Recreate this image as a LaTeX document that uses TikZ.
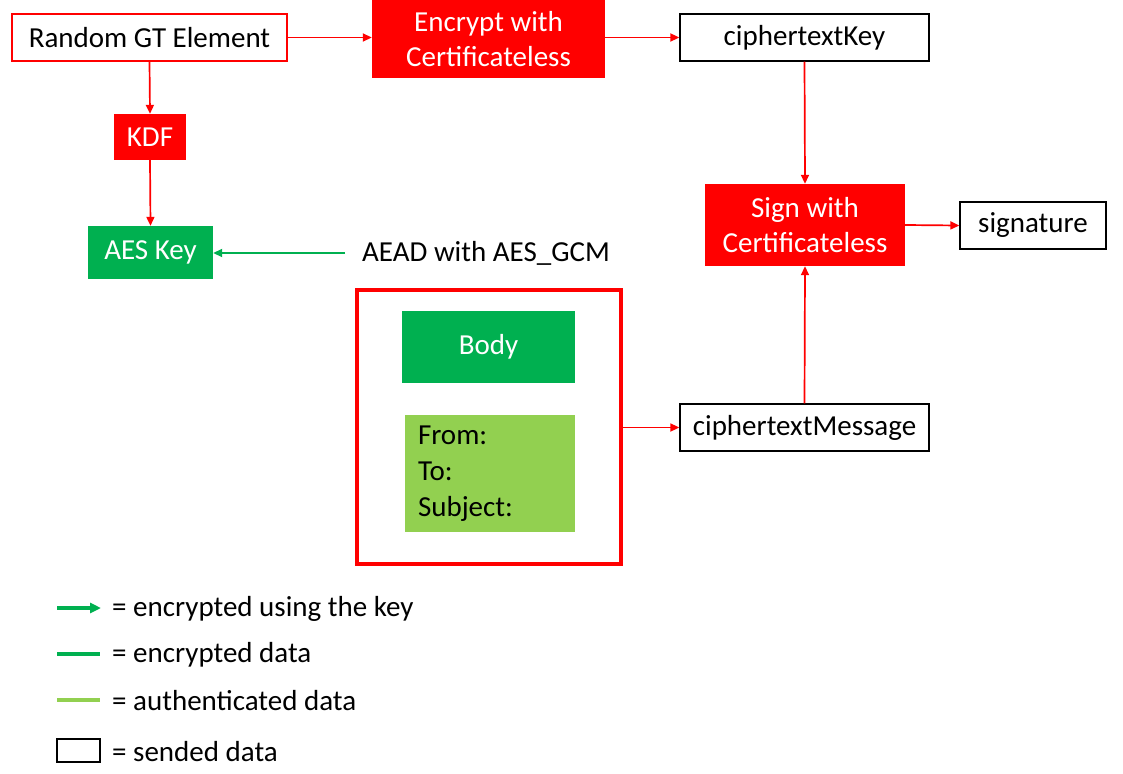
\documentclass[tikz,border=0pt]{standalone}
\usepackage{fontspec}
\setmainfont{Carlito}
\usepackage{tikz}
\usetikzlibrary{arrows.meta, calc}
\usepackage{xcolor}

\definecolor{boxred}{HTML}{FF0000}
\definecolor{encgreen}{HTML}{00B050}
\definecolor{authgreen}{HTML}{92D050}

\tikzset{
  every node/.style={font=\fontsize{29}{35}\selectfont, inner sep=0pt},
  sent/.style={draw=black, line width=1.3pt, fill=white},
  redfill/.style={fill=boxred, text=white, align=center},
  flow/.style={boxred, line width=1.7pt, -{Triangle[length=9pt, width=8pt]}},
}

\begin{document}
\begin{tikzpicture}[x=1pt, y=-1pt]
	\useasboundingbox (0,0) rectangle (1123,773);
	% top row
	\path (149.5,37.5) node [draw=boxred, line width=1.5pt, minimum width=275, minimum height=47] (random) {Random GT Element};
	\path (488.5,39) node [redfill, minimum width=233, minimum height=78] (encrypt) {Encrypt with\\Certificateless};
	\path (804.5,37.5) node [sent, minimum width=249, minimum height=47] (ckey) {ciphertextKey};
	% key derivation
	\path (150,137) node [redfill, minimum width=72, minimum height=46] (kdf) {KDF};
	\path (150.5,252.5) node [fill=encgreen, text=white, minimum width=125, minimum height=53] (aeskey) {AES Key};
	\path (345,253) node [anchor=west, inner xsep=17pt] (aead) {AEAD with AES\_GCM};
	% signing
	\path (805,225) node [redfill, minimum width=200, minimum height=82] (sign) {Sign with\\Certificateless};
	\path (1033,225.5) node [sent, minimum width=146, minimum height=47] (signature) {signature};
	\path (804.5,427.5) node [sent, minimum width=249, minimum height=47] (cmsg) {ciphertextMessage};
	% message
	\path (489,427) node [draw=boxred, line width=3.5pt, minimum width=264, minimum height=274] (frame) {};
	\path (488.5,347) node [fill=encgreen, text=white, minimum width=173, minimum height=72] (body) {Body};
	\path (490,473.5) node [fill=authgreen, minimum width=170, minimum height=117, text width=144, inner xsep=13pt, align=left, font=\fontsize{29}{36}\selectfont] (header) {From:\\To:\\Subject:};
	% connectors
	\draw [flow] (random.east) -- (random.east -| encrypt.west);
	\draw [flow] (encrypt.east |- ckey.west) -- (ckey.west);
	\draw [flow] (random.south) -- (kdf.north);
	\draw [flow] (kdf.south) -- (aeskey.north);
	\draw [encgreen, line width=1.7pt, -{Triangle[length=9pt, width=8pt]}] (aead.west) -- (aeskey.east |- aead.west);
	\draw [flow] (ckey.south) -- (sign.north);
	\draw [flow] (sign.east) -- (signature.west);
	\draw [flow] (cmsg.north) -- (sign.south);
	\draw [flow] (frame.east |- cmsg.west) -- (cmsg.west);
	% legend
	\coordinate (l1) at (57,608);
	\coordinate (l2) at (57,654);
	\coordinate (l3) at (57,700);
	\draw [encgreen, line width=3.5pt, -{Triangle[length=11pt, width=10pt]}] (l1) -- ++(44,0);
	\draw [encgreen, line width=4pt] (l2) -- ++(43,0);
	\draw [authgreen, line width=4pt] (l3) -- ++(43,0);
	\path (78.5,750.5) node [draw=black, line width=1.8pt, minimum width=43, minimum height=23] (lbox) {};
	\path (112,609) node [anchor=west] (t1) {= encrypted using the key};
	\path (112,655) node [anchor=west] (t2) {= encrypted data};
	\path (112,701) node [anchor=west] (t3) {= authenticated data};
	\path (112,751.5) node [anchor=west] (t4) {= sended data};
\end{tikzpicture}
\end{document}
